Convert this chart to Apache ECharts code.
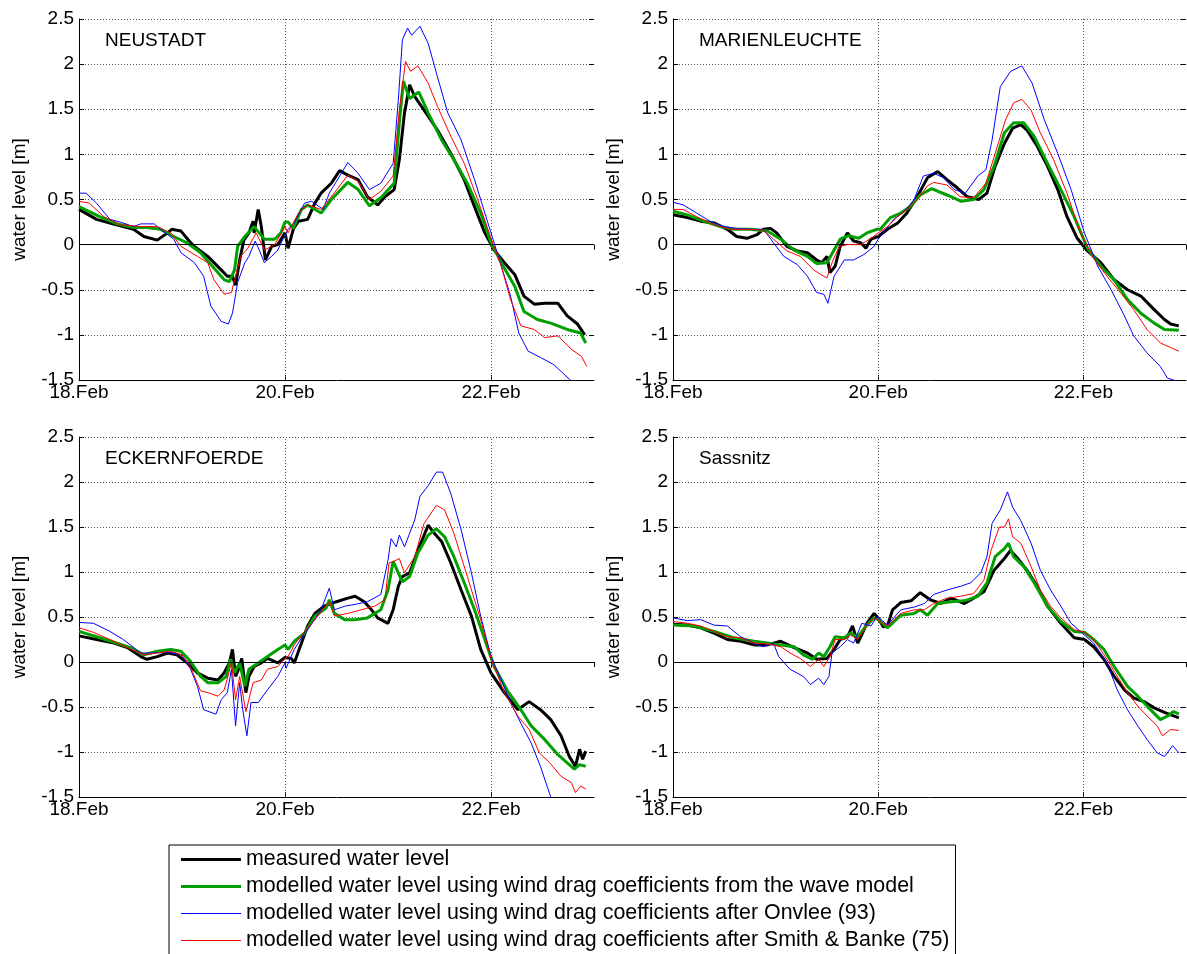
<!DOCTYPE html>
<html><head><meta charset="utf-8">
<script src="https://cdn.jsdelivr.net/npm/echarts@6/dist/echarts.min.js"></script>
<style>html,body{margin:0;padding:0;background:#fff}#c{width:1187px;height:954px}</style>
</head><body><div id="c"></div>
<script>
const stations = ['NEUSTADT', 'MARIENLEUCHTE', 'ECKERNFOERDE', 'Sassnitz'];
const seriesNames = [
  'measured water level',
  'modelled water level using wind drag coefficients from the wave model',
  'modelled water level using wind drag coefficients after Onvlee (93)',
  'modelled water level using wind drag coefficients after Smith & Banke (75)'
];
const xTickDays = [18, 20, 22];
const yTicks = [-1.5, -1, -0.5, 0, 0.5, 1, 1.5, 2, 2.5];

// NEUSTADT
const neuMeas = [[18.0,0.39],[18.17,0.28],[18.3,0.24],[18.53,0.17],[18.63,0.09],[18.76,0.05],[18.86,0.13],[18.9,0.17],[18.99,0.15],[19.07,0.04],[19.12,-0.02],[19.25,-0.13],[19.38,-0.28],[19.44,-0.35],[19.49,-0.35],[19.52,-0.45],[19.56,-0.17],[19.6,0.05],[19.65,0.13],[19.69,0.26],[19.7,0.13],[19.74,0.39],[19.77,0.2],[19.81,-0.17],[19.87,-0.02],[19.93,0.0],[20.0,0.13],[20.03,-0.04],[20.08,0.17],[20.13,0.26],[20.22,0.28],[20.29,0.46],[20.35,0.57],[20.45,0.68],[20.53,0.82],[20.61,0.77],[20.71,0.72],[20.8,0.53],[20.9,0.44],[20.97,0.53],[21.06,0.61],[21.11,0.94],[21.16,1.46],[21.21,1.77],[21.26,1.64],[21.35,1.49],[21.48,1.27],[21.61,1.01],[21.74,0.72],[21.84,0.42],[21.94,0.13],[22.03,-0.06],[22.13,-0.2],[22.23,-0.33],[22.32,-0.57],[22.42,-0.66],[22.52,-0.65],[22.65,-0.65],[22.74,-0.79],[22.84,-0.88],[22.91,-1.0]];
const neuWave = [[18.0,0.42],[18.2,0.31],[18.37,0.23],[18.53,0.19],[18.66,0.19],[18.79,0.17],[18.92,0.09],[19.05,0.02],[19.18,-0.09],[19.31,-0.26],[19.41,-0.39],[19.46,-0.41],[19.51,-0.28],[19.54,-0.02],[19.61,0.09],[19.7,0.2],[19.75,0.13],[19.8,0.06],[19.9,0.06],[19.96,0.13],[20.0,0.25],[20.03,0.25],[20.08,0.18],[20.16,0.39],[20.22,0.44],[20.35,0.35],[20.45,0.5],[20.61,0.69],[20.71,0.61],[20.82,0.43],[20.93,0.52],[21.06,0.68],[21.11,1.35],[21.15,1.81],[21.21,1.62],[21.3,1.69],[21.39,1.46],[21.52,1.16],[21.64,0.94],[21.77,0.68],[21.9,0.35],[22.0,0.02],[22.1,-0.2],[22.23,-0.46],[22.32,-0.74],[22.45,-0.83],[22.58,-0.87],[22.74,-0.94],[22.87,-0.98],[22.92,-1.09]];
const neuOnvlee = [[18.0,0.57],[18.07,0.57],[18.17,0.46],[18.3,0.28],[18.4,0.25],[18.53,0.2],[18.6,0.23],[18.73,0.23],[18.79,0.17],[18.92,0.06],[18.99,-0.09],[19.12,-0.2],[19.21,-0.35],[19.28,-0.68],[19.38,-0.85],[19.45,-0.88],[19.49,-0.76],[19.54,-0.42],[19.61,-0.2],[19.65,-0.13],[19.71,0.04],[19.75,-0.06],[19.8,-0.2],[19.87,-0.13],[19.93,-0.06],[20.0,0.11],[20.03,0.17],[20.09,0.24],[20.19,0.46],[20.26,0.48],[20.37,0.39],[20.43,0.57],[20.61,0.91],[20.71,0.79],[20.82,0.61],[20.93,0.68],[21.05,0.9],[21.1,1.6],[21.14,2.27],[21.19,2.4],[21.23,2.32],[21.31,2.42],[21.39,2.23],[21.48,1.86],[21.58,1.46],[21.71,1.16],[21.84,0.72],[21.97,0.24],[22.06,-0.09],[22.19,-0.57],[22.27,-0.98],[22.36,-1.18],[22.48,-1.25],[22.61,-1.33],[22.76,-1.49],[22.9,-1.62]];
const neuSmith = [[18.0,0.48],[18.1,0.46],[18.24,0.31],[18.4,0.22],[18.6,0.2],[18.76,0.2],[18.89,0.13],[18.99,-0.02],[19.15,-0.13],[19.25,-0.2],[19.31,-0.39],[19.41,-0.55],[19.48,-0.53],[19.52,-0.35],[19.57,-0.13],[19.64,-0.04],[19.72,0.13],[19.8,-0.06],[19.9,0.0],[20.0,0.2],[20.03,0.13],[20.13,0.35],[20.22,0.44],[20.35,0.39],[20.45,0.53],[20.61,0.77],[20.71,0.7],[20.82,0.5],[20.93,0.59],[21.05,0.76],[21.11,1.49],[21.17,2.03],[21.22,1.92],[21.29,1.98],[21.39,1.79],[21.48,1.53],[21.61,1.2],[21.74,0.9],[21.87,0.5],[22.0,0.07],[22.1,-0.24],[22.19,-0.61],[22.29,-0.9],[22.42,-0.94],[22.52,-1.03],[22.65,-1.01],[22.78,-1.16],[22.88,-1.24],[22.93,-1.35]];

// MARIENLEUCHTE
const marMeas = [[18.0,0.33],[18.14,0.3],[18.27,0.26],[18.4,0.24],[18.53,0.17],[18.62,0.09],[18.72,0.07],[18.82,0.11],[18.88,0.17],[18.95,0.18],[19.01,0.13],[19.11,-0.02],[19.21,-0.07],[19.31,-0.09],[19.4,-0.17],[19.45,-0.2],[19.5,-0.13],[19.53,-0.31],[19.58,-0.24],[19.63,-0.02],[19.7,0.13],[19.76,0.04],[19.83,0.02],[19.88,-0.04],[19.93,0.06],[20.0,0.09],[20.09,0.17],[20.19,0.24],[20.28,0.35],[20.38,0.53],[20.48,0.74],[20.58,0.81],[20.67,0.72],[20.77,0.63],[20.87,0.53],[20.98,0.5],[21.06,0.57],[21.14,0.87],[21.23,1.12],[21.31,1.29],[21.39,1.33],[21.45,1.27],[21.55,1.09],[21.65,0.87],[21.75,0.61],[21.84,0.31],[21.94,0.07],[22.04,-0.07],[22.17,-0.2],[22.3,-0.39],[22.43,-0.5],[22.56,-0.57],[22.69,-0.72],[22.79,-0.83],[22.85,-0.88],[22.93,-0.9]];
const marWave = [[18.0,0.37],[18.14,0.33],[18.3,0.26],[18.46,0.2],[18.59,0.17],[18.75,0.17],[18.92,0.15],[19.05,0.06],[19.18,-0.06],[19.31,-0.13],[19.4,-0.21],[19.5,-0.2],[19.57,-0.06],[19.63,0.06],[19.71,0.1],[19.81,0.07],[19.89,0.13],[19.99,0.17],[20.02,0.17],[20.12,0.3],[20.22,0.35],[20.31,0.42],[20.41,0.55],[20.52,0.62],[20.67,0.55],[20.81,0.48],[20.93,0.5],[21.03,0.61],[21.13,0.87],[21.23,1.24],[21.32,1.35],[21.42,1.35],[21.52,1.2],[21.65,0.9],[21.78,0.61],[21.91,0.31],[22.04,-0.04],[22.17,-0.24],[22.3,-0.39],[22.43,-0.61],[22.56,-0.76],[22.69,-0.87],[22.79,-0.94],[22.93,-0.95]];
const marOnvlee = [[18.0,0.47],[18.1,0.44],[18.23,0.35],[18.36,0.26],[18.49,0.2],[18.62,0.18],[18.75,0.17],[18.88,0.17],[18.98,0.02],[19.08,-0.13],[19.21,-0.22],[19.31,-0.35],[19.4,-0.53],[19.47,-0.55],[19.51,-0.65],[19.57,-0.35],[19.67,-0.17],[19.76,-0.17],[19.86,-0.11],[19.96,-0.02],[20.0,0.06],[20.06,0.15],[20.15,0.28],[20.25,0.36],[20.35,0.5],[20.44,0.76],[20.54,0.79],[20.64,0.74],[20.74,0.61],[20.85,0.57],[20.97,0.76],[21.05,0.83],[21.11,1.16],[21.19,1.75],[21.29,1.92],[21.4,1.98],[21.5,1.79],[21.62,1.38],[21.75,1.01],[21.88,0.61],[22.01,0.13],[22.14,-0.24],[22.27,-0.5],[22.4,-0.79],[22.49,-1.01],[22.62,-1.2],[22.75,-1.35],[22.82,-1.48],[22.93,-1.52]];
const marSmith = [[18.0,0.39],[18.1,0.39],[18.23,0.31],[18.4,0.22],[18.56,0.17],[18.72,0.17],[18.88,0.16],[18.98,0.06],[19.11,-0.07],[19.24,-0.13],[19.37,-0.28],[19.44,-0.33],[19.5,-0.37],[19.55,-0.2],[19.62,-0.02],[19.7,0.0],[19.83,0.0],[19.93,0.07],[20.0,0.13],[20.09,0.2],[20.19,0.31],[20.28,0.39],[20.38,0.5],[20.48,0.65],[20.54,0.69],[20.67,0.66],[20.8,0.53],[20.93,0.52],[21.05,0.68],[21.14,1.01],[21.24,1.38],[21.32,1.57],[21.4,1.61],[21.49,1.49],[21.58,1.24],[21.71,0.94],[21.84,0.57],[21.97,0.13],[22.1,-0.15],[22.23,-0.35],[22.36,-0.53],[22.49,-0.72],[22.62,-0.94],[22.75,-1.09],[22.85,-1.14],[22.93,-1.18]];

// ECKERNFOERDE
const eckMeas = [[18.0,0.29],[18.17,0.25],[18.34,0.21],[18.47,0.16],[18.6,0.06],[18.66,0.03],[18.76,0.06],[18.86,0.1],[18.95,0.08],[19.05,-0.01],[19.15,-0.12],[19.25,-0.18],[19.35,-0.2],[19.41,-0.12],[19.46,-0.01],[19.49,0.14],[19.52,-0.16],[19.55,-0.08],[19.58,0.04],[19.62,-0.34],[19.65,-0.16],[19.7,-0.05],[19.77,-0.01],[19.83,0.04],[19.93,-0.01],[20.0,0.05],[20.06,0.04],[20.09,-0.01],[20.16,0.21],[20.22,0.4],[20.29,0.54],[20.38,0.62],[20.5,0.67],[20.61,0.71],[20.68,0.73],[20.77,0.67],[20.84,0.58],[20.9,0.49],[21.0,0.43],[21.05,0.58],[21.1,0.84],[21.14,0.95],[21.21,0.99],[21.29,1.24],[21.39,1.52],[21.45,1.43],[21.52,1.34],[21.61,1.1],[21.71,0.8],[21.81,0.51],[21.9,0.14],[22.0,-0.12],[22.13,-0.34],[22.26,-0.53],[22.37,-0.44],[22.48,-0.53],[22.58,-0.64],[22.68,-0.82],[22.76,-1.05],[22.82,-1.16],[22.86,-0.97],[22.89,-1.08],[22.92,-0.99]];
const eckWave = [[18.0,0.34],[18.17,0.28],[18.34,0.22],[18.5,0.16],[18.63,0.08],[18.76,0.12],[18.89,0.14],[18.99,0.12],[19.08,0.01],[19.18,-0.16],[19.25,-0.23],[19.35,-0.23],[19.43,-0.16],[19.47,0.03],[19.51,-0.12],[19.56,-0.01],[19.61,-0.27],[19.65,-0.08],[19.74,-0.01],[19.83,0.06],[19.93,0.14],[20.0,0.19],[20.03,0.14],[20.09,0.23],[20.19,0.32],[20.29,0.51],[20.4,0.6],[20.43,0.69],[20.48,0.54],[20.58,0.47],[20.68,0.47],[20.8,0.49],[20.93,0.58],[21.0,0.8],[21.05,1.12],[21.1,0.99],[21.14,0.89],[21.21,0.95],[21.29,1.21],[21.39,1.41],[21.47,1.48],[21.55,1.39],[21.64,1.17],[21.74,0.88],[21.84,0.58],[21.94,0.25],[22.03,-0.05],[22.16,-0.32],[22.29,-0.53],[22.39,-0.71],[22.52,-0.86],[22.65,-1.03],[22.74,-1.12],[22.81,-1.19],[22.86,-1.14],[22.92,-1.16]];
const eckOnvlee = [[18.0,0.44],[18.14,0.43],[18.3,0.34],[18.43,0.25],[18.6,0.1],[18.73,0.1],[18.86,0.11],[18.99,0.08],[19.08,-0.07],[19.15,-0.27],[19.21,-0.53],[19.33,-0.58],[19.38,-0.42],[19.44,-0.34],[19.48,-0.08],[19.52,-0.71],[19.56,-0.23],[19.59,-0.53],[19.63,-0.82],[19.67,-0.45],[19.74,-0.45],[19.83,-0.31],[19.93,-0.16],[20.0,-0.01],[20.01,-0.07],[20.09,0.14],[20.19,0.32],[20.29,0.47],[20.35,0.58],[20.43,0.82],[20.48,0.58],[20.58,0.62],[20.68,0.64],[20.8,0.67],[20.93,0.75],[21.0,1.13],[21.03,1.37],[21.08,1.28],[21.11,1.41],[21.16,1.28],[21.26,1.58],[21.31,1.84],[21.39,1.96],[21.47,2.11],[21.53,2.11],[21.61,1.87],[21.71,1.47],[21.81,0.99],[21.9,0.51],[22.0,0.06],[22.1,-0.2],[22.19,-0.45],[22.29,-0.68],[22.39,-0.9],[22.48,-1.16],[22.58,-1.5],[22.65,-1.64]];
const eckSmith = [[18.0,0.38],[18.14,0.33],[18.3,0.25],[18.47,0.16],[18.63,0.08],[18.76,0.1],[18.89,0.12],[19.0,0.08],[19.08,-0.05],[19.18,-0.32],[19.25,-0.34],[19.35,-0.38],[19.41,-0.31],[19.48,-0.01],[19.52,-0.42],[19.56,-0.16],[19.62,-0.55],[19.69,-0.23],[19.77,-0.2],[19.83,-0.08],[19.93,-0.05],[20.0,0.04],[20.03,0.06],[20.09,0.19],[20.19,0.34],[20.29,0.47],[20.43,0.67],[20.48,0.51],[20.61,0.54],[20.74,0.58],[20.87,0.62],[20.97,0.69],[21.01,1.1],[21.06,1.12],[21.11,1.15],[21.16,0.99],[21.26,1.17],[21.35,1.54],[21.47,1.74],[21.55,1.69],[21.64,1.43],[21.77,0.95],[21.9,0.47],[22.0,0.04],[22.13,-0.34],[22.26,-0.6],[22.37,-0.75],[22.47,-1.01],[22.57,-1.12],[22.68,-1.27],[22.78,-1.34],[22.82,-1.45],[22.87,-1.38],[22.92,-1.41]];

// Sassnitz
const sasMeas = [[18.0,0.42],[18.14,0.41],[18.27,0.38],[18.4,0.32],[18.53,0.25],[18.66,0.23],[18.79,0.19],[18.92,0.19],[19.05,0.23],[19.18,0.16],[19.31,0.1],[19.4,0.03],[19.5,0.04],[19.57,0.14],[19.63,0.25],[19.7,0.28],[19.75,0.4],[19.8,0.21],[19.83,0.28],[19.89,0.43],[19.96,0.54],[20.0,0.49],[20.05,0.39],[20.09,0.4],[20.14,0.58],[20.22,0.66],[20.32,0.68],[20.41,0.77],[20.51,0.69],[20.61,0.65],[20.71,0.71],[20.84,0.65],[20.93,0.71],[21.03,0.78],[21.13,1.02],[21.23,1.15],[21.29,1.24],[21.36,1.15],[21.45,1.02],[21.55,0.84],[21.65,0.62],[21.78,0.43],[21.91,0.27],[22.01,0.25],[22.1,0.17],[22.2,0.03],[22.3,-0.16],[22.4,-0.31],[22.49,-0.4],[22.59,-0.44],[22.69,-0.51],[22.79,-0.56],[22.93,-0.62]];
const sasWave = [[18.0,0.41],[18.2,0.4],[18.4,0.34],[18.59,0.27],[18.79,0.23],[18.92,0.21],[19.05,0.19],[19.18,0.17],[19.27,0.08],[19.36,0.03],[19.42,0.1],[19.47,0.06],[19.53,0.17],[19.58,0.28],[19.67,0.27],[19.73,0.32],[19.8,0.28],[19.89,0.41],[19.96,0.49],[20.0,0.47],[20.09,0.38],[20.22,0.52],[20.35,0.54],[20.41,0.58],[20.48,0.52],[20.58,0.65],[20.71,0.67],[20.84,0.68],[20.97,0.73],[21.06,0.88],[21.14,1.17],[21.23,1.26],[21.27,1.32],[21.32,1.17],[21.42,1.06],[21.52,0.88],[21.65,0.62],[21.78,0.45],[21.91,0.34],[22.01,0.33],[22.1,0.25],[22.2,0.14],[22.3,-0.05],[22.43,-0.27],[22.53,-0.38],[22.62,-0.49],[22.75,-0.64],[22.82,-0.6],[22.88,-0.55],[22.93,-0.58]];
const sasOnvlee = [[18.0,0.49],[18.14,0.46],[18.27,0.47],[18.4,0.41],[18.53,0.4],[18.66,0.28],[18.79,0.21],[18.88,0.17],[18.98,0.21],[19.03,0.06],[19.14,-0.08],[19.27,-0.16],[19.34,-0.25],[19.42,-0.18],[19.47,-0.25],[19.52,-0.16],[19.55,0.1],[19.63,0.17],[19.7,0.25],[19.76,0.21],[19.84,0.43],[19.93,0.4],[19.99,0.51],[20.09,0.41],[20.22,0.58],[20.35,0.61],[20.45,0.65],[20.54,0.75],[20.67,0.8],[20.8,0.84],[20.9,0.88],[21.0,0.99],[21.06,1.17],[21.11,1.54],[21.19,1.69],[21.26,1.89],[21.31,1.72],[21.39,1.57],[21.49,1.32],[21.58,1.02],[21.68,0.8],[21.78,0.62],[21.88,0.43],[21.97,0.34],[22.1,0.21],[22.23,-0.01],[22.33,-0.31],[22.43,-0.53],[22.53,-0.71],[22.62,-0.86],[22.72,-1.01],[22.79,-1.05],[22.87,-0.93],[22.93,-1.01]];
const sasSmith = [[18.0,0.45],[18.14,0.43],[18.27,0.4],[18.4,0.34],[18.53,0.28],[18.66,0.27],[18.79,0.21],[18.92,0.2],[19.05,0.17],[19.14,0.1],[19.24,0.04],[19.34,-0.05],[19.42,0.03],[19.47,-0.05],[19.53,0.06],[19.58,0.25],[19.67,0.25],[19.73,0.3],[19.8,0.25],[19.89,0.41],[19.96,0.49],[20.09,0.4],[20.22,0.54],[20.35,0.58],[20.45,0.58],[20.54,0.65],[20.67,0.71],[20.8,0.73],[20.93,0.76],[21.03,0.91],[21.1,1.24],[21.18,1.5],[21.23,1.5],[21.27,1.59],[21.31,1.39],[21.39,1.32],[21.49,1.06],[21.58,0.8],[21.68,0.62],[21.78,0.49],[21.91,0.36],[22.01,0.33],[22.1,0.25],[22.23,0.03],[22.33,-0.16],[22.43,-0.34],[22.53,-0.49],[22.62,-0.6],[22.72,-0.71],[22.77,-0.82],[22.85,-0.75],[22.93,-0.76]];

const panelData = [
  [neuMeas, neuWave, neuOnvlee, neuSmith],
  [marMeas, marWave, marOnvlee, marSmith],
  [eckMeas, eckWave, eckOnvlee, eckSmith],
  [sasMeas, sasWave, sasOnvlee, sasSmith]
];

const FONT = 'Liberation Sans, Arial, sans-serif';
const colors = ['#000000', '#00a000', '#0000ff', '#ff0000'];
const widths = [3, 3, 1, 1];
const legendIcons = ['path://M0,0H60V3H0Z', 'path://M0,0H60V3H0Z', 'path://M0,0H60V1H0Z', 'path://M0,0H60V1H0Z'];
const grids = [
  {left: 79, top: 19, width: 515, height: 361},
  {left: 673, top: 19, width: 513, height: 361},
  {left: 79, top: 437, width: 515, height: 360},
  {left: 673, top: 437, width: 513, height: 360}
];
const titlePos = [[105, 31], [699, 31], [105, 449], [699, 449]];

const xAxes = [], yAxes = [], series = [], titles = [];
grids.forEach((g, i) => {
  xAxes.push({
    gridIndex: i, type: 'value', min: 18, max: 23, interval: 2, position: 'bottom',
    axisLine: {show: true, onZero: false, lineStyle: {color: '#000', width: 1}},
    axisTick: {show: true, inside: true, length: 5, lineStyle: {color: '#000'}},
    axisLabel: {show: true, color: '#000', fontSize: 19, fontFamily: FONT, margin: 3, showMaxLabel: false,
      formatter: v => (xTickDays.indexOf(v) >= 0 ? v + '.Feb' : '')},
    splitLine: {show: false}
  });
  xAxes.push({
    gridIndex: i, type: 'value', min: 18, max: 23, interval: 2, position: 'top',
    axisLine: {show: false}, axisTick: {show: true, inside: true, length: 5, lineStyle: {color: '#000'}},
    axisLabel: {show: false}, splitLine: {show: false}
  });
  yAxes.push({
    gridIndex: i, type: 'value', min: -1.5, max: 2.5, interval: 0.5, position: 'left',
    name: 'water level [m]', nameLocation: 'middle', nameRotate: 90, nameGap: 50,
    nameTextStyle: {color: '#000', fontSize: 19, fontFamily: FONT},
    axisLine: {show: true, onZero: false, lineStyle: {color: '#000', width: 1}},
    axisTick: {show: true, inside: true, length: 5, lineStyle: {color: '#000'}},
    axisLabel: {show: true, color: '#000', fontSize: 19, fontFamily: FONT, margin: 5},
    splitLine: {show: true, lineStyle: {color: '#555', type: [1, 2], width: 1}}
  });
  yAxes.push({
    gridIndex: i, type: 'value', min: -1.5, max: 2.5, interval: 0.5, position: 'right',
    axisLine: {show: false}, axisTick: {show: true, inside: true, length: 5, lineStyle: {color: '#000'}},
    axisLabel: {show: false}, splitLine: {show: false}
  });
  titles.push({
    text: stations[i], left: titlePos[i][0], top: titlePos[i][1], padding: 0,
    textStyle: {color: '#000', fontSize: 19, fontWeight: 'normal', fontFamily: FONT}
  });
  panelData[i].forEach((d, k) => {
    const s = {
      type: 'line', name: seriesNames[k], xAxisIndex: i * 2, yAxisIndex: i * 2, data: d,
      showSymbol: false, symbol: 'none', clip: true, animation: false, z: 3 + k,
      lineStyle: {color: colors[k], width: widths[k]}, itemStyle: {color: colors[k]}
    };
    if (k === 0) {
      s.markLine = {
        silent: true, symbol: ['none', 'none'], animation: false, label: {show: false},
        data: [
          {yAxis: 0, lineStyle: {color: '#000', type: 'solid', width: 1}},
          {xAxis: xTickDays[1], lineStyle: {color: '#555', type: [1, 2], width: 1}},
          {xAxis: xTickDays[2], lineStyle: {color: '#555', type: [1, 2], width: 1}}
        ]
      };
    }
    series.push(s);
  });
});

const chart = echarts.init(document.getElementById('c'), null, {renderer: 'canvas'});
chart.setOption({
  backgroundColor: '#fff',
  animation: false,
  title: titles,
  grid: grids,
  xAxis: xAxes,
  yAxis: yAxes,
  legend: {
    show: true, type: 'plain', orient: 'vertical', left: 169, top: 845, width: 800, height: 400,
    padding: [4, 6, 30, 12], itemGap: 6, itemWidth: 60, itemHeight: 14,
    borderColor: '#000', borderWidth: 1, borderRadius: 0, backgroundColor: '#fff',
    symbolKeepAspect: true,
    itemStyle: {borderWidth: 0},
    data: seriesNames.map((n, k) => ({name: n, icon: legendIcons[k], itemStyle: {color: colors[k], borderWidth: 0}})),
    textStyle: {color: '#000', fontSize: 21.4, fontFamily: FONT},
    selectedMode: false
  },
  series: series
});
</script>
</body></html>
